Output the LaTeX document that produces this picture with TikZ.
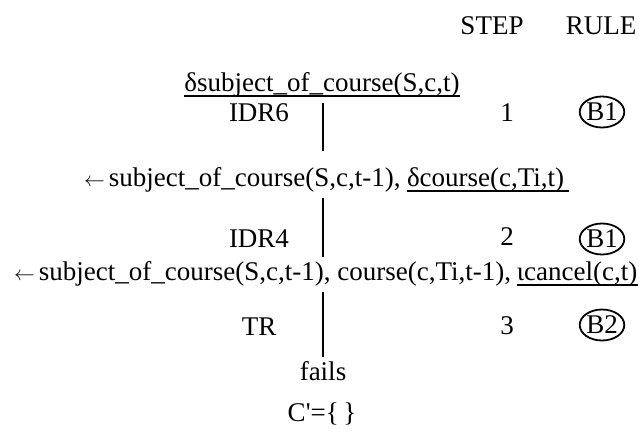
\documentclass[tikz,border=0pt]{standalone}
\usepackage{fontspec}
\setmainfont{Liberation Serif}
\usetikzlibrary{positioning,shapes.geometric}

\newcommand{\larrow}{{\fontsize{22}{26}\selectfont$\leftarrow$}\hspace{4pt}}

\begin{document}
\begin{tikzpicture}[x=1pt,y=-1pt,
	every node/.style={font=\fontsize{27}{31}\selectfont, inner sep=0pt},
	rulemark/.style={draw, ellipse, line width=1.8pt, minimum width=37pt, minimum height=31pt},
	bar/.style={line width=2.6pt},
	uline/.style={line width=1.8pt}]
	\useasboundingbox (0,0) rectangle (639,439);
	
	% column heads
	\node[anchor=base] (step) at (492,34) {STEP};
	\node[anchor=base] (rule) at (601,34) {RULE};
	
	% step 1
	\node[anchor=base] (goal) at (322,91) {δsubject\_of\_course(S,c,t)};
	\draw[uline] ([yshift=-5pt]goal.base west) -- ([yshift=-5pt]goal.base east);
	\node[anchor=base] (idr6) at (259,121) {IDR6};
	\node[anchor=base] (n1) at (507,121) {1};
	\node[rulemark] (r1) at (602,112) {B1};
	\coordinate (b1top) at (323,103); \coordinate (b1bot) at (323,151);
	\draw[bar] (b1top) -- (b1bot);
	
	% step 2
	\node[anchor=base west] (sub2) at (84,186) {\larrow subject\_of\_course(S,c,t-1),};
	\node[anchor=base west] (crs2) at ([xshift=6pt]sub2.base east) {δcourse(c,Ti,t)};
	\draw[uline] ([yshift=-5pt]crs2.base west) -- ([xshift=5pt,yshift=-5pt]crs2.base east);
	\node[anchor=base] (idr4) at (259,247) {IDR4};
	\node[anchor=base] (n2) at (507,245) {2};
	\node[rulemark] (r2) at (602,239) {B1};
	\coordinate (b2top) at (323,198); \coordinate (b2bot) at (323,257);
	\draw[bar] (b2top) -- (b2bot);
	
	% step 3
	\node[anchor=base west] (sub3) at (14,280) {\larrow subject\_of\_course(S,c,t-1), course(c,Ti,t-1),};
	\node[anchor=base west] (cnc3) at ([xshift=5.5pt]sub3.base east) {ιcancel(c,t)};
	\draw[uline] ([yshift=-5pt]cnc3.base west) -- ([yshift=-5pt]cnc3.base east);
	\node[anchor=base] (tr) at (259,335) {TR};
	\node[anchor=base] (n3) at (507,334) {3};
	\node[rulemark] (r3) at (602,325) {B2};
	\coordinate (b3top) at (323,292); \coordinate (b3bot) at (323,357);
	\draw[bar] (b3top) -- (b3bot);
	
	% result
	\node[anchor=base] (fails) at (323,380) {fails};
	\node[anchor=base] (cset) at (322,421) {C\textquotesingle=\{\,\}};
\end{tikzpicture}
\end{document}
